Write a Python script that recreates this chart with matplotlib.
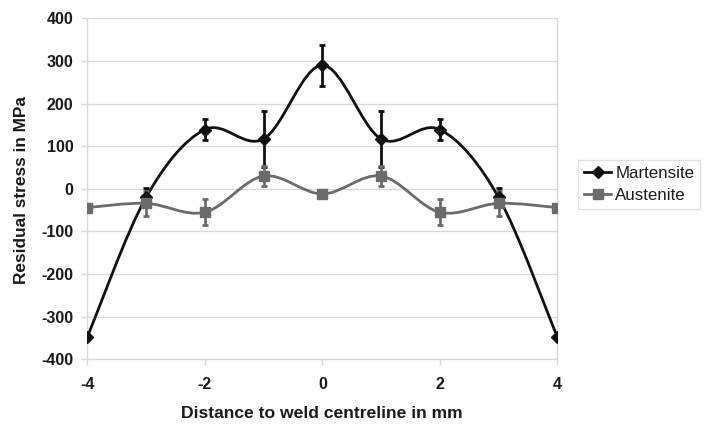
import numpy as np
import matplotlib
matplotlib.use("Agg")
import matplotlib.pyplot as plt
from matplotlib.path import Path
from matplotlib.patches import PathPatch

x = [-4, -3, -2, -1, 0, 1, 2, 3, 4]
martensite = [-348, -20, 139, 117, 290, 117, 139, -20, -348]
martensite_err = [0, 22, 25, 65, 48, 65, 25, 22, 0]
austenite = [-44, -34, -55, 30, -12, 30, -55, -34, -44]
austenite_err = [0, 30, 31, 24, 6, 24, 31, 30, 0]
xticks = [-4, -2, 0, 2, 4]
yticks = [-400, -300, -200, -100, 0, 100, 200, 300, 400]

plt.rcParams['font.family'] = ['Liberation Sans', 'DejaVu Sans']

fig = plt.figure(figsize=(7.08, 4.25), dpi=100)
ax = fig.add_axes([0.1233, 0.1544, 0.7872 - 0.1233, 0.957 - 0.1544])


def smooth_path(xs, ys):
    P = np.column_stack([xs, ys]).astype(float)
    n = len(P)
    verts = [P[0]]
    codes = [Path.MOVETO]
    for i in range(n - 1):
        p0 = P[i - 1] if i > 0 else P[i]
        p1 = P[i]
        p2 = P[i + 1]
        p3 = P[i + 2] if i + 2 < n else P[i + 1]
        c1 = p1 + (p2 - p0) / 6.0
        c2 = p2 - (p3 - p1) / 6.0
        verts += [c1, c2, p2]
        codes += [Path.CURVE4] * 3
    return Path(verts, codes)


grid_c = '#d9d9d9'
text_c = '#1a1a1a'
series = [
    ('Martensite', martensite, martensite_err, '#111111', 'D', 6.5),
    ('Austenite', austenite, austenite_err, '#6b6b6b', 's', 7.8),
]
for name, ys, err, col, mk, ms in series:
    ax.add_patch(PathPatch(smooth_path(x, ys), facecolor='none', edgecolor=col,
                           lw=2.0, zorder=3))
    ex = [xi for xi, e in zip(x, err) if e > 0]
    ey = [yi for yi, e in zip(ys, err) if e > 0]
    ee = [e for e in err if e > 0]
    ax.errorbar(ex, ey, yerr=ee, fmt='none', ecolor=col, elinewidth=2.0,
                capsize=2.5, capthick=2.0, zorder=4)
    ax.plot(x, ys, linestyle='none', marker=mk, markersize=ms, color=col, zorder=5)
    ax.plot([], [], color=col, lw=2.0, marker=mk, markersize=ms, label=name)

ax.set_xlim(-4, 4)
ax.set_ylim(-400, 400)
ax.set_xticks(xticks)
ax.set_yticks(yticks)
ax.set_xticklabels([str(t) for t in xticks], fontsize=11.5, fontweight='bold')
ax.set_yticklabels([str(t) for t in yticks], fontsize=11.5, fontweight='bold')
ax.tick_params(axis='both', colors=grid_c, length=4, width=1, labelcolor=text_c)
ax.tick_params(axis='x', pad=9)
ax.tick_params(axis='y', pad=6)
ax.grid(axis='y', color=grid_c, lw=1)
ax.set_axisbelow(True)
for s in ['left', 'right', 'bottom']:
    ax.spines[s].set_color(grid_c)
    ax.spines[s].set_linewidth(1)
ax.spines['top'].set_visible(False)

fig.text(0.455, 0.028, 'Distance to weld centreline in mm', ha='center', va='center',
         fontsize=12.6, fontweight='bold', color=text_c)
fig.text(0.031, 0.553, 'Residual stress in MPa', ha='center', va='center', rotation=90,
         fontsize=12.4, fontweight='bold', color=text_c)

leg = ax.legend(loc='upper left', bbox_to_anchor=(0.8165, 0.6235), bbox_transform=fig.transFigure,
                frameon=True, fancybox=False, fontsize=12.2, handlelength=1.6,
                borderpad=0.35, labelspacing=0.42, handletextpad=0.25, borderaxespad=0)
leg.get_frame().set_edgecolor(grid_c)
leg.get_frame().set_linewidth(1)
for t in leg.get_texts():
    t.set_color(text_c)

fig.savefig('out.png', dpi=100)
